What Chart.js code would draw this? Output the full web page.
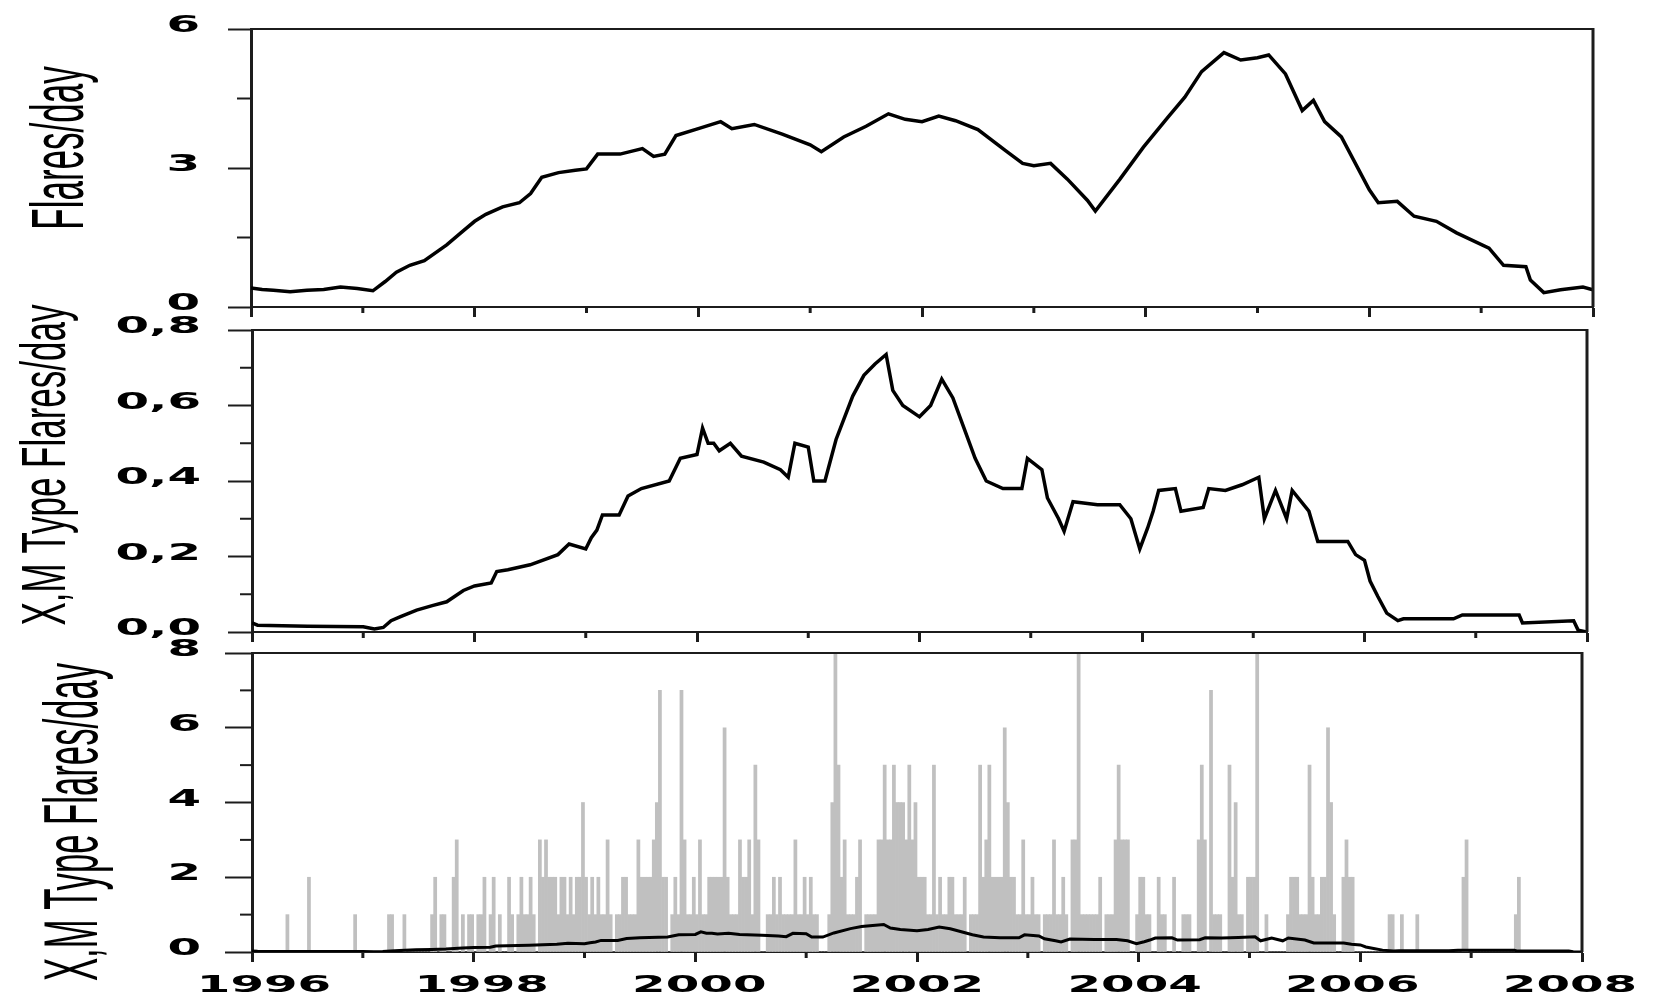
<!DOCTYPE html>
<html>
<head>
<meta charset="utf-8">
<script src="https://cdn.jsdelivr.net/npm/chart.js@4.4.0/dist/chart.umd.min.js"></script>
<style>
  html, body { margin: 0; padding: 0; background: #fff; }
  #wrap { position: relative; width: 1656px; height: 1001px; overflow: hidden; background: #fff; }
  canvas { position: absolute; left: 0; }
</style>
</head>
<body>
<div id="wrap">
  <canvas id="c1" width="1656" height="330" style="top:0"></canvas>
  <canvas id="c2" width="1656" height="365" style="top:290px"></canvas>
  <canvas id="c3" width="1656" height="371" style="top:630px"></canvas>
</div>
<script>
// all flares, running mean (flares/day)
const allYears = [1996.00, 1996.10, 1996.20, 1996.35, 1996.50, 1996.65, 1996.80, 1996.95, 1997.09, 1997.20,
  1997.30, 1997.42, 1997.55, 1997.75, 1997.90, 1998.00, 1998.10, 1998.25, 1998.40, 1998.50,
  1998.60, 1998.75, 1998.90, 1999.00, 1999.10, 1999.30, 1999.50, 1999.60, 1999.70, 1999.80,
  2000.00, 2000.20, 2000.30, 2000.50, 2000.75, 2001.00, 2001.10, 2001.30, 2001.50, 2001.70,
  2001.85, 2002.00, 2002.15, 2002.30, 2002.50, 2002.75, 2002.90, 2003.00, 2003.15, 2003.30,
  2003.48, 2003.55, 2003.77, 2003.98, 2004.20, 2004.35, 2004.50, 2004.70, 2004.85, 2005.00,
  2005.10, 2005.25, 2005.40, 2005.50, 2005.60, 2005.75, 2006.00, 2006.08, 2006.25, 2006.40,
  2006.60, 2006.78, 2007.07, 2007.20, 2007.40, 2007.44, 2007.56, 2007.71, 2007.91, 2008.00];
const allRate = [0.41, 0.38, 0.36, 0.33, 0.36, 0.38, 0.43, 0.40, 0.35, 0.55,
  0.75, 0.90, 1.00, 1.34, 1.65, 1.85, 2.00, 2.16, 2.25, 2.45,
  2.80, 2.90, 2.95, 2.98, 3.30, 3.30, 3.42, 3.25, 3.30, 3.70,
  3.85, 4.00, 3.85, 3.94, 3.73, 3.50, 3.35, 3.67, 3.90, 4.17,
  4.05, 4.00, 4.12, 4.02, 3.83, 3.37, 3.10, 3.05, 3.10, 2.76,
  2.30, 2.07, 2.76, 3.45, 4.10, 4.53, 5.08, 5.49, 5.33, 5.38,
  5.44, 5.03, 4.24, 4.46, 4.00, 3.67, 2.53, 2.25, 2.28, 1.96,
  1.85, 1.60, 1.27, 0.90, 0.87, 0.58, 0.31, 0.37, 0.43, 0.37];

// X and M class flares, running mean (flares/day)
const xmYears = [1996.00, 1996.05, 1996.50, 1997.00, 1997.10, 1997.18, 1997.25, 1997.33, 1997.48, 1997.62,
  1997.75, 1997.90, 1998.00, 1998.15, 1998.20, 1998.30, 1998.50, 1998.75, 1998.85, 1999.00,
  1999.05, 1999.10, 1999.15, 1999.30, 1999.38, 1999.50, 1999.75, 1999.85, 2000.00, 2000.05,
  2000.10, 2000.15, 2000.20, 2000.30, 2000.40, 2000.60, 2000.75, 2000.82, 2000.88, 2001.00,
  2001.05, 2001.15, 2001.25, 2001.40, 2001.50, 2001.60, 2001.70, 2001.76, 2001.85, 2002.00,
  2002.10, 2002.20, 2002.30, 2002.40, 2002.50, 2002.60, 2002.75, 2002.92, 2002.97, 2003.10,
  2003.15, 2003.25, 2003.30, 2003.38, 2003.60, 2003.80, 2003.90, 2003.98, 2004.05, 2004.10,
  2004.15, 2004.30, 2004.35, 2004.55, 2004.60, 2004.75, 2004.90, 2005.05, 2005.10, 2005.20,
  2005.30, 2005.35, 2005.50, 2005.58, 2005.85, 2005.92, 2006.00, 2006.05, 2006.12, 2006.20,
  2006.30, 2006.35, 2006.80, 2006.88, 2007.39, 2007.42, 2007.88, 2007.92, 2008.00];
const xmRate = [0.024, 0.018, 0.015, 0.014, 0.008, 0.012, 0.03, 0.04, 0.058, 0.07,
  0.08, 0.11, 0.122, 0.13, 0.16, 0.165, 0.178, 0.205, 0.233, 0.22,
  0.25, 0.27, 0.31, 0.31, 0.36, 0.38, 0.40, 0.46, 0.47, 0.54,
  0.50, 0.50, 0.48, 0.50, 0.466, 0.45, 0.43, 0.41, 0.50, 0.49,
  0.40, 0.40, 0.51, 0.625, 0.68, 0.71, 0.735, 0.64, 0.60, 0.57,
  0.60, 0.67, 0.62, 0.54, 0.46, 0.40, 0.38, 0.38, 0.46, 0.43,
  0.355, 0.30, 0.267, 0.345, 0.337, 0.337, 0.30, 0.22, 0.275, 0.32,
  0.375, 0.38, 0.32, 0.33, 0.38, 0.375, 0.39, 0.41, 0.30, 0.375,
  0.30, 0.375, 0.32, 0.24, 0.24, 0.205, 0.19, 0.135, 0.094, 0.05,
  0.03, 0.035, 0.035, 0.045, 0.045, 0.024, 0.03, 0.005, 0.0];

// X and M flare counts, 36 bins per year (one row per year, 1996..2007)
const binsPerYear = 36;
const xmCounts = [
  0,0,0,0,0,0,0,0,0,0,0,1,0,0,0,0,0,0,2,0,0,0,0,0,0,0,0,0,0,0,0,0,0,1,0,0,
  0,0,0,0,0,0,0,0,1,1,0,0,0,1,0,0,0,0,0,0,0,0,1,2,0,1,1,0,0,2,3,0,1,0,1,1,
  0,1,1,2,0,1,2,0,1,0,0,2,1,0,1,2,1,1,2,1,0,3,2,3,2,2,2,1,2,2,1,2,1,2,2,4,
  2,1,2,1,2,1,1,3,1,0,1,1,2,2,1,1,1,3,2,2,2,2,3,4,7,2,2,0,1,2,1,7,3,1,1,2,
  1,3,1,1,2,2,2,2,2,6,2,1,1,1,3,2,2,3,1,5,3,0,0,1,1,2,1,2,1,1,1,1,3,1,1,2,
  1,2,1,1,0,0,0,1,4,8,5,2,3,1,1,1,2,3,0,1,1,1,1,3,3,5,3,3,5,4,4,4,3,5,3,4,
  2,2,2,1,1,5,1,2,1,1,2,2,1,1,1,2,0,1,1,1,5,2,3,5,2,2,2,2,6,4,2,2,1,1,3,1,
  1,2,1,1,0,1,1,1,3,1,1,2,1,0,3,3,8,1,1,1,1,1,1,2,0,1,1,1,3,5,3,3,3,0,0,1,
  2,2,1,1,0,0,2,1,1,0,0,2,0,0,1,1,1,0,0,3,5,3,0,7,1,1,1,0,0,5,2,4,1,1,0,2,
  2,2,8,0,0,1,0,0,0,0,0,0,1,2,2,2,1,1,1,5,2,1,1,2,2,6,4,1,0,0,2,3,2,2,0,0,
  0,0,0,0,0,0,0,0,0,1,1,0,0,1,0,0,0,0,1,0,0,0,0,0,0,0,0,0,0,0,0,0,0,2,3,0,
  0,0,0,0,0,0,0,0,0,0,0,0,0,0,1,2,0,0,0,0,0,0,0,0,0,0,0,0,0,0,0,0,0,0,0,0
];

// axis ticks
const xMinorYears = [1997, 1999, 2001, 2003, 2005, 2007];
const topMinor = [1.5, 4.5];
const midMinor = [0.1, 0.3, 0.5, 0.7];
const botMinor = [1, 3, 5, 7];

const AXIS = '#1c1c1c';
const TICK_FONT = 'bold 23px "DejaVu Sans"';
const TICK_STRETCH = 2.1;

const pts = (xs, ys) => xs.map((x, i) => ({ x: x, y: ys[i] }));
const barPts = xmCounts.map((v, i) => ({ x: 1996 + (i + 0.5) / binsPerYear, y: v }));

function fmt(v, decimals) {
  return decimals ? v.toFixed(decimals).replace('.', ',') : String(Math.round(v));
}

function deco(p) {
  return {
    id: 'deco',
    afterDraw(chart) {
      const ctx = chart.ctx, a = chart.chartArea;
      const xs = chart.scales.x, ys = chart.scales.y;
      ctx.save();
      ctx.strokeStyle = AXIS;
      ctx.lineCap = 'butt';
      // rest of the box
      ctx.lineWidth = 2;
      ctx.beginPath(); ctx.moveTo(a.left, a.top); ctx.lineTo(a.right, a.top); ctx.stroke();
      ctx.lineWidth = 3;
      ctx.beginPath(); ctx.moveTo(a.right, a.top - 1); ctx.lineTo(a.right, a.bottom); ctx.stroke();
      // minor ticks
      ctx.lineWidth = 2;
      p.yMinor.forEach(v => {
        const y = ys.getPixelForValue(v);
        ctx.beginPath(); ctx.moveTo(a.left - p.yMinorLen, y); ctx.lineTo(a.left, y); ctx.stroke();
      });
      ctx.lineWidth = 3;
      xMinorYears.forEach(v => {
        const x = xs.getPixelForValue(v);
        ctx.beginPath(); ctx.moveTo(x, a.bottom); ctx.lineTo(x, a.bottom + 6); ctx.stroke();
      });
      // tick labels, wide like the original
      ctx.fillStyle = '#000';
      ctx.font = TICK_FONT;
      ctx.textBaseline = 'alphabetic';
      ctx.textAlign = 'right';
      ys.ticks.forEach(t => {
        ctx.save();
        ctx.translate(a.left - 51, ys.getPixelForValue(t.value) + 3);
        ctx.scale(TICK_STRETCH, 1);
        ctx.fillText(fmt(t.value, p.decimals), 0, 0);
        ctx.restore();
      });
      if (p.xLabels) {
        ctx.textAlign = 'center';
        xs.ticks.forEach(t => {
          // year labels sit a little inward of the end ticks in the original
          const shift = 12 - 24 * (t.value - xs.min) / (xs.max - xs.min);
          ctx.save();
          ctx.translate(xs.getPixelForValue(t.value) + shift, a.bottom + 40);
          ctx.scale(TICK_STRETCH, 1);
          ctx.fillText(String(t.value), 0, 0);
          ctx.restore();
        });
      }
      // y title
      ctx.font = p.title.size + 'px "Liberation Sans"';
      ctx.textAlign = 'center';
      ctx.translate(p.title.x, p.title.y);
      ctx.rotate(-Math.PI / 2);
      ctx.scale(1, p.title.stretch);
      ctx.fillText(p.title.text, 0, 0);
      ctx.restore();
    }
  };
}

function makePanel(id, p) {
  new Chart(document.getElementById(id), {
    type: p.type,
    data: { datasets: p.datasets },
    options: {
      responsive: false,
      animation: false,
      devicePixelRatio: 1,
      layout: { padding: { left: 0, top: p.padTop, right: p.padRight, bottom: p.padBottom } },
      plugins: { legend: { display: false }, tooltip: { enabled: false } },
      scales: {
        x: {
          type: 'linear', min: 1996, max: 2008, offset: false,
          ticks: { display: false, stepSize: 2 },
          grid: { drawOnChartArea: false, offset: false, tickLength: 10, tickWidth: 3, tickColor: AXIS },
          border: { display: true, color: AXIS, width: 2 },
          afterFit: s => { s.height = p.xHeight; }
        },
        y: {
          type: 'linear', min: 0, max: p.yMax,
          ticks: { display: false, stepSize: p.yStep },
          grid: { drawOnChartArea: false, tickLength: p.yTickLen, tickWidth: 2, tickColor: AXIS },
          border: { display: true, color: AXIS, width: 3 },
          afterFit: s => { s.width = p.left; }
        }
      }
    },
    plugins: [deco(p)]
  });
}

makePanel('c1', {
  type: 'line', left: 251, padTop: 29, padRight: 63, padBottom: 3, xHeight: 20,
  yMax: 6, yStep: 3, yTickLen: 23, yMinor: topMinor, yMinorLen: 14, decimals: 0, xLabels: false,
  title: { text: 'Flares/day', size: 35, x: 83, y: 148, stretch: 2.1 },
  datasets: [{ data: pts(allYears, allRate), borderColor: '#000', borderWidth: 3.5, pointRadius: 0, tension: 0, fill: false }]
});

makePanel('c2', {
  type: 'line', left: 252, padTop: 40, padRight: 69, padBottom: 3, xHeight: 20,
  yMax: 0.8, yStep: 0.2, yTickLen: 24, yMinor: midMinor, yMinorLen: 12, decimals: 1, xLabels: false,
  title: { text: 'X,M Type Flares/day', size: 35, x: 65, y: 175, stretch: 1.8 },
  datasets: [{ data: pts(xmYears, xmRate), borderColor: '#000', borderWidth: 3.5, pointRadius: 0, tension: 0, fill: false }]
});

makePanel('c3', {
  type: 'bar', left: 252, padTop: 23, padRight: 74, padBottom: 4, xHeight: 45,
  yMax: 8, yStep: 2, yTickLen: 27, yMinor: botMinor, yMinorLen: 12, decimals: 0, xLabels: true,
  title: { text: 'X,M Type Flares/day', size: 34.7, x: 97, y: 192, stretch: 2.17 },
  datasets: [
    { type: 'line', order: 0, data: pts(xmYears, xmRate), borderColor: '#000', borderWidth: 3, pointRadius: 0, tension: 0, fill: false },
    { type: 'bar', order: 1, data: barPts, backgroundColor: '#c0c0c0', borderWidth: 0, barPercentage: 1, categoryPercentage: 1 }
  ]
});
</script>
</body>
</html>
